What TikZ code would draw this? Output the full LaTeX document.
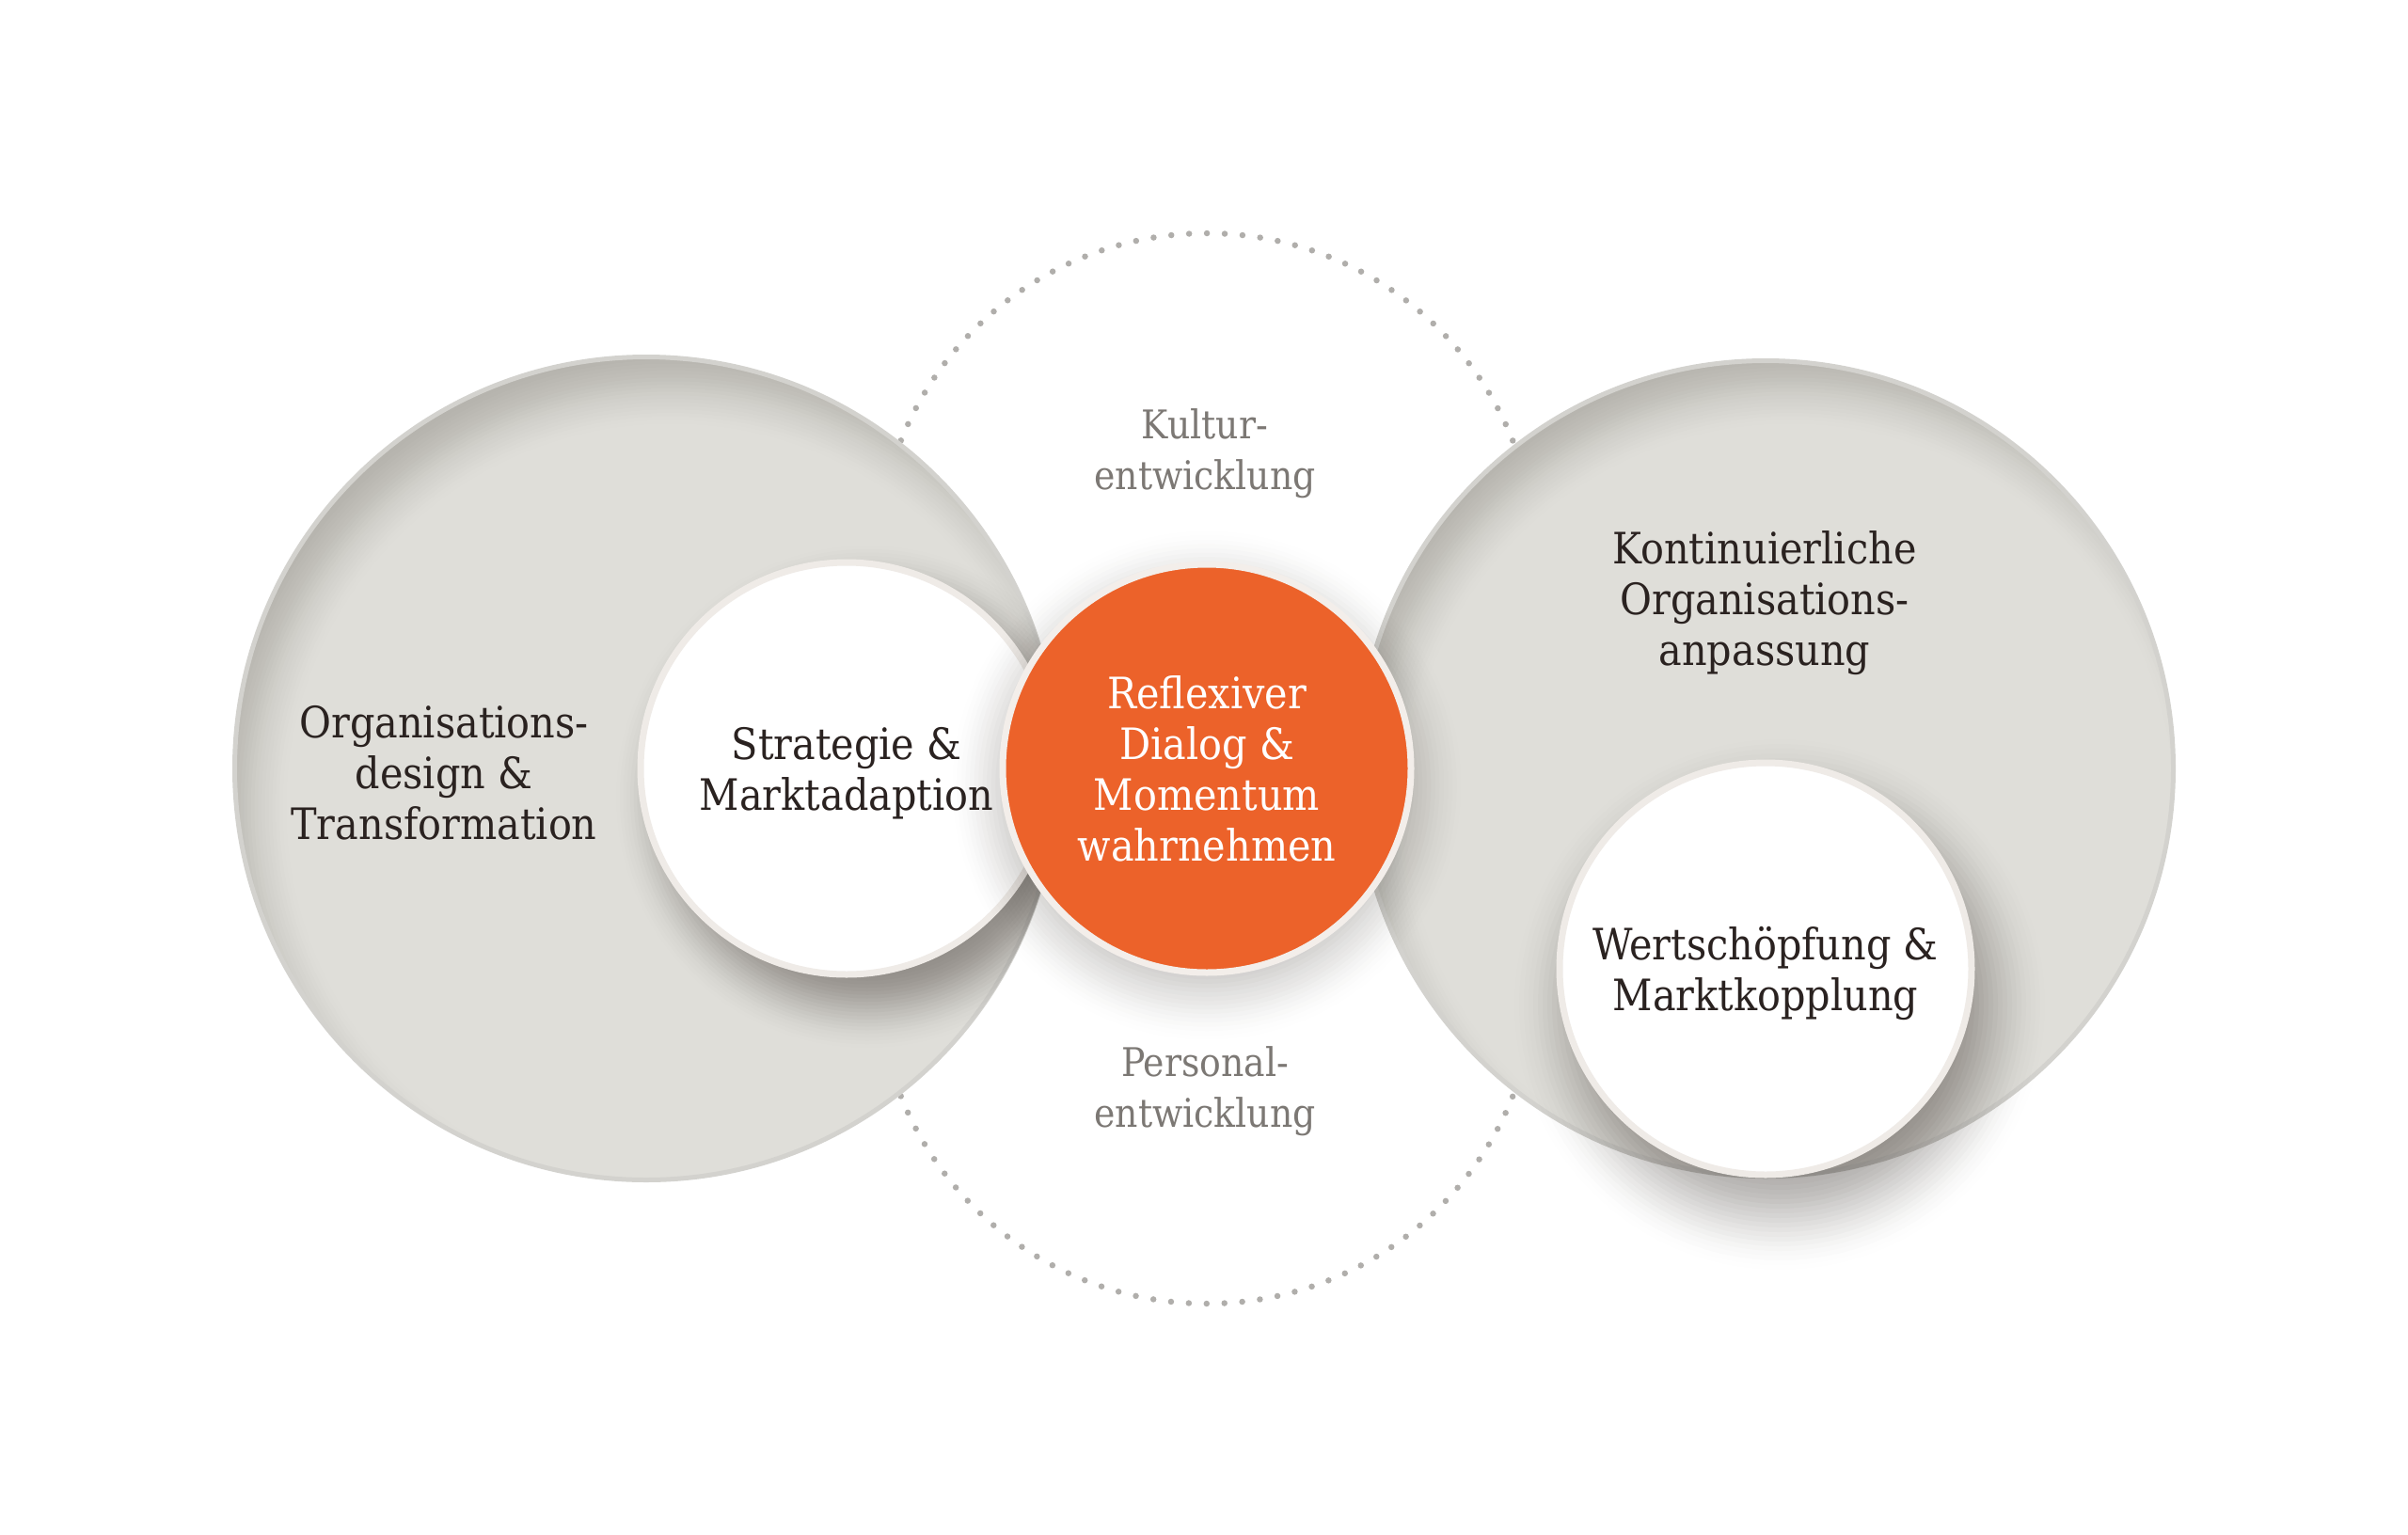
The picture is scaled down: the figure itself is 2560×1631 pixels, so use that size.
\documentclass[tikz,border=0pt]{standalone}
\usepackage{fontspec}
\setmainfont{DejaVu Serif Condensed}
\definecolor{bigfill}{HTML}{DFDED9}
\definecolor{bigdark}{HTML}{B4B2AC}
\definecolor{bigrim}{HTML}{D3D2CE}
\definecolor{ringc}{HTML}{EFEBE7}
\definecolor{orangec}{HTML}{EC622A}
\definecolor{orangering}{HTML}{F3EEEA}
\definecolor{txt}{HTML}{2A2220}
\definecolor{graytxt}{HTML}{7C7874}
\definecolor{dotc}{HTML}{B0AEAB}
\definecolor{shadowc}{HTML}{3A342E}
\newcommand\lblfont{\fontsize{46pt}{54pt}\selectfont}
\newcommand\glblfont{\fontsize{42pt}{54pt}\selectfont}
% soft-edged disk: center, radius, blur, colour, max opacity
\newcommand\softdisk[5]{%
  \foreach \i in {1,...,24}{%
    \pgfmathsetmacro\tA{(\i-1)/24}%
    \pgfmathsetmacro\tB{\i/24}%
    \pgfmathsetmacro\cA{#5*\tA*\tA*(3-2*\tA)}%
    \pgfmathsetmacro\cB{#5*\tB*\tB*(3-2*\tB)}%
    \pgfmathsetmacro\al{(\cB-\cA)/(1-\cA)}%
    \pgfmathsetmacro\rad{#2+#3-(\i-1)*2*#3/24}%
    \fill[#4, opacity=\al] #1 circle[radius=\rad pt];
  }}
\begin{document}
\begin{tikzpicture}[x=1pt,y=-1pt,
  bigcirc/.style={circle, inner sep=0pt, minimum size=#1, fill=bigdark,
    draw=bigrim, line width=5pt,
    path picture={\softdisk{([shift={(26pt,-42pt)}]path picture bounding box.center)}{450}{45}{bigfill}{1}}},
  whitecirc/.style={circle, inner sep=0pt, minimum size=438pt, fill=white,
    draw=ringc, line width=7pt},
  orangecirc/.style={circle, inner sep=0pt, minimum size=434pt, fill=orangec,
    draw=orangering, line width=7pt, align=center, text=white, font=\lblfont},
  dotring/.style={circle, inner sep=0pt, minimum size=700pt, draw=dotc,
    line width=6.5pt, line cap=round, dash pattern=on 0pt off 18.958pt},
  lbl/.style={align=center, text=txt, font=\lblfont, inner sep=0pt},
  glbl/.style={align=center, text=graytxt, font=\glblfont, inner sep=0pt}]
\useasboundingbox (0,0) rectangle (2560,1631);
% dotted arcs (upper and lower)
\begin{scope}
  \clip (0,0) rectangle (2560,817);
  \node[dotring] (ringtop) at (1283,598) {};
\end{scope}
\begin{scope}
  \clip (0,817) rectangle (2560,1631);
  \node[dotring] (ringbot) at (1283,1036) {};
\end{scope}
% big circles
\node[bigcirc=875pt] (leftbig) at (687,817) {};
\node[bigcirc=867pt] (rightbig) at (1877,817) {};
% shadow of the left inner circle, falling on the left big circle
\begin{scope}
  \clip (leftbig.center) circle[radius=439pt];
  \softdisk{([shift={(22pt,-30pt)}]leftbig.center)+(213,0)}{222}{45}{shadowc}{0.42}
\end{scope}
\node[whitecirc] (strat) at (900,817) {};
\node[lbl] (strattxt) at ([yshift=-5pt]strat.center) {Strategie \&\\Marktadaption};
% shadow of the right inner circle
\softdisk{([shift={(15pt,-38pt)}]rightbig.center)+(0,213)}{222}{60}{shadowc}{0.42}
\node[whitecirc] (wert) at (1877,1030) {};
\node[lbl] (werttxt) at ([yshift=-5pt]wert.center) {Wertschöpfung \&\\Marktkopplung};
% shadow of the centre circle
\softdisk{([shift={(0pt,-18pt)}]1283,817)}{220}{55}{shadowc}{0.3}
\node[orangecirc] (dialog) at (1283,817) {Reflexiver\\Dialog \&\\Momentum\\wahrnehmen};
% labels
\node[lbl] (lefttxt) at (472,822) {Organisations-\\design \&\\Transformation};
\node[lbl] (righttxt) at (1876,641) {Kontinuierliche\\Organisations-\\anpassung};
\node[glbl] (kultur) at (1281,482) {Kultur-\\entwicklung};
\node[glbl] (personal) at (1281,1160) {Personal-\\entwicklung};
\end{tikzpicture}
\end{document}
